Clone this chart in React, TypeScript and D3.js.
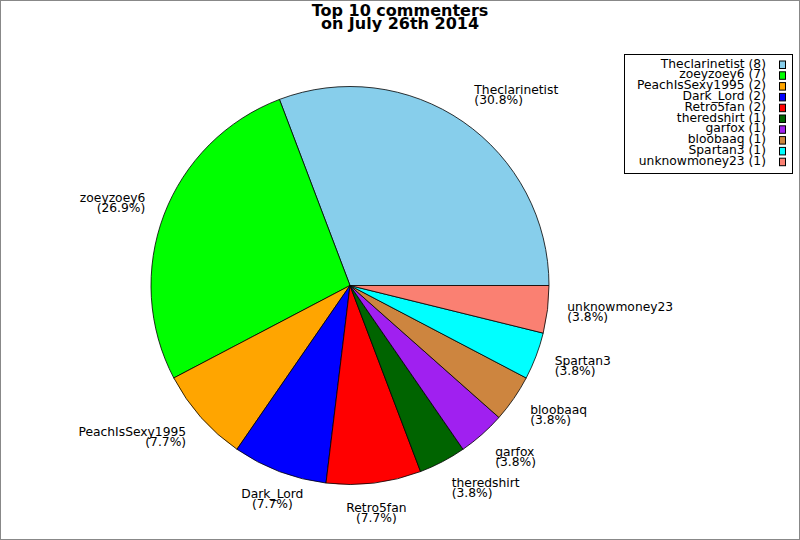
import * as d3 from "d3";

const names = [
  "Theclarinetist",
  "zoeyzoey6",
  "PeachIsSexy1995",
  "Dark_Lord",
  "Retro5fan",
  "theredshirt",
  "garfox",
  "bloobaaq",
  "Spartan3",
  "unknowmoney23",
];
const counts = [8, 7, 2, 2, 2, 1, 1, 1, 1, 1];
const colors = [
  "#87ceeb",
  "#00ff00",
  "#ffa500",
  "#0000ff",
  "#ff0000",
  "#006400",
  "#a020f0",
  "#cd853f",
  "#00ffff",
  "#fa8072",
];
const titleLines = ["Top 10 commenters", "on July 26th 2014"];

const width = 800;
const height = 540;
const cx = 350;
const cy = 285.5;
const radius = 199;
const font = "'DejaVu Sans', sans-serif";

export default function App() {
  const total = d3.sum(counts);
  const data = names.map((name, i) => ({ name, count: counts[i], color: colors[i] }));

  // counter-clockwise from 3 o'clock
  const pie = d3
    .pie<(typeof data)[number]>()
    .value((d) => d.count)
    .sort(null)
    .startAngle(Math.PI / 2)
    .endAngle(Math.PI / 2 - 2 * Math.PI);
  const arcs = pie(data);
  const arc = d3.arc<d3.PieArcDatum<(typeof data)[number]>>().innerRadius(0).outerRadius(radius);

  const labelR = radius * 1.1;
  const blockH = 22;

  return (
    <>
      <style>{"body{margin:0}"}</style>
      <svg width={width} height={height} style={{ display: "block", fontFamily: font }}>
        <rect x={0.5} y={0.5} width={width - 1} height={height - 1} fill="white" stroke="#888" />
        <g fontWeight="bold" fontSize={16} textAnchor="middle">
          {titleLines.map((t, i) => (
            <text key={i} x={400} y={16 + i * 13}>
              {t}
            </text>
          ))}
        </g>

        <g transform={`translate(${cx},${cy})`}>
          {arcs.map((a, i) => (
            <path key={i} d={arc(a) ?? ""} fill={a.data.color} stroke="black" strokeWidth={0.8} />
          ))}
        </g>

        <g fontSize={12.3} fill="black">
          {arcs.map((a, i) => {
            const mid = (a.startAngle + a.endAngle) / 2;
            const cosT = Math.sin(mid);
            const sinT = Math.cos(mid);
            const ax = cx + labelR * cosT;
            const ay = cy - labelR * sinT;
            const anchor = Math.abs(cosT) < 0.4 ? "middle" : cosT > 0 ? "start" : "end";
            const top = ay - (blockH * (1 + sinT)) / 2;
            const pct = ((a.data.count / total) * 100).toFixed(1);
            return (
              <text key={i} x={ax} y={top + 9} textAnchor={anchor}>
                <tspan x={ax}>{a.data.name}</tspan>
                <tspan x={ax} dy={10}>{`(${pct}%)`}</tspan>
              </text>
            );
          })}
        </g>

        <g>
          <rect x={624.5} y={54.5} width={168} height={119} fill="white" stroke="black" />
          {data.map((d, i) => {
            const by = 67.5 + i * 10.8;
            return (
              <g key={i}>
                <text x={766} y={by} fontSize={12.3} textAnchor="end">
                  {`${d.name} (${d.count})`}
                </text>
                <rect x={779.5} y={by - 6.5} width={6} height={7.5} fill={d.color} stroke="black" />
              </g>
            );
          })}
        </g>
      </svg>
    </>
  );
}
